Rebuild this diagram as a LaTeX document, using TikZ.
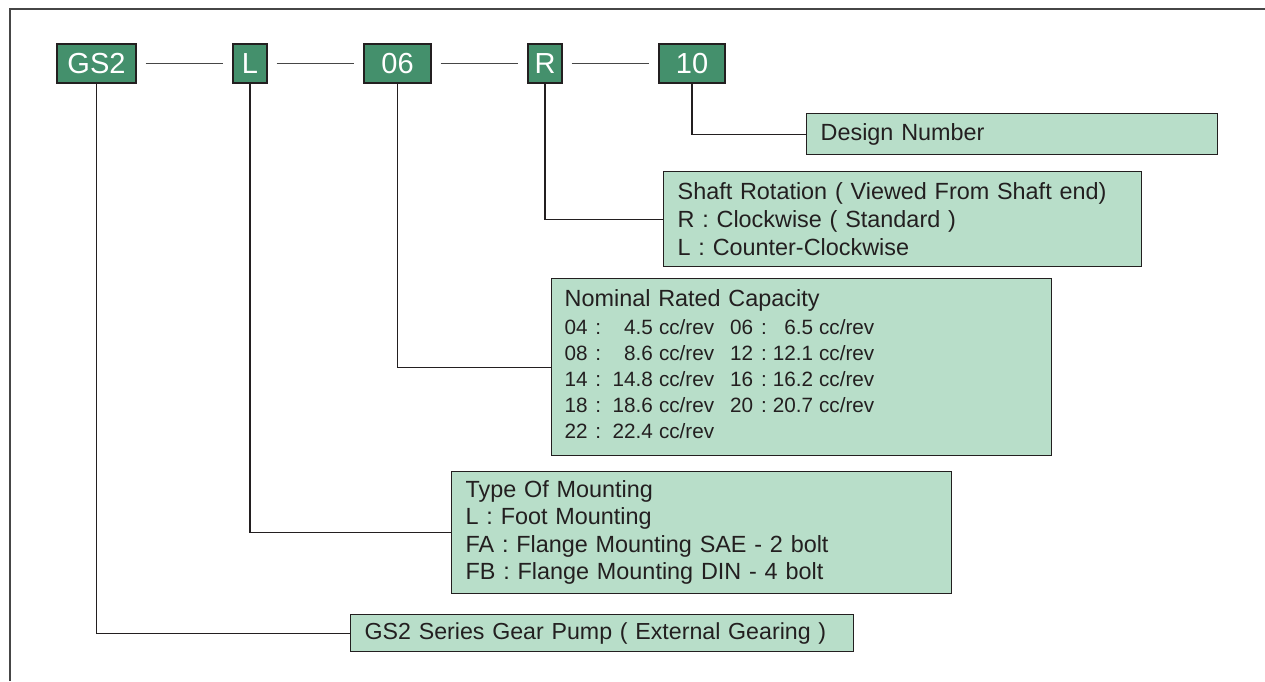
\documentclass[tikz,border=0pt]{standalone}
\usepackage{fontspec}
\setmainfont{Liberation Sans}
\definecolor{codegreen}{RGB}{68,144,108}
\definecolor{boxgreen}{RGB}{184,222,201}
\definecolor{bord}{RGB}{35,31,32}
\definecolor{linegray}{RGB}{70,70,70}
\tikzset{
  codebox/.style={draw=bord, fill=codegreen, line width=1.3pt, text=white,
    inner sep=0pt, minimum height=39pt, font=\fontsize{29}{32}\selectfont},
  descbox/.style={draw=bord, fill=boxgreen, line width=1.3pt, text=bord,
    inner xsep=14pt, inner ysep=0pt, align=left, anchor=north west,
    font=\fontsize{23.4}{28}\selectfont},
  link/.style={draw=linegray, line width=1.2pt, shorten <=9pt, shorten >=9pt},
  conn/.style={draw=bord, line width=1.2pt},
  frameline/.style={draw=linegray, line width=1.3pt}
}
\begin{document}
\begin{tikzpicture}[x=1pt,y=-1pt]
\useasboundingbox (0,0) rectangle (1265,681);
\coordinate (fbl) at (10,681);
\coordinate (ftr) at (1265,9);
\draw[frameline] (fbl) |- (ftr);

% code boxes
\node[codebox, minimum width=79pt] (gs) at (96.5,63.5) {GS2};
\node[codebox, minimum width=34pt] (mt) at (250,63.5) {L};
\node[codebox, minimum width=67pt] (cap) at (397.5,63.5) {06};
\node[codebox, minimum width=34pt] (rot) at (545,63.5) {R};
\node[codebox, minimum width=66pt] (des) at (692,63.5) {10};

\draw[link] (gs.east) -- (mt.west);
\draw[link] (mt.east) -- (cap.west);
\draw[link] (cap.east) -- (rot.west);
\draw[link] (rot.east) -- (des.west);

% description boxes
\node[descbox, text width=383pt, minimum height=41pt] (dn) at (806,113) {Design Number};
\node[descbox, text width=450pt, minimum height=95pt] (sr) at (663,171)
  {Shaft Rotation ( Viewed From Shaft end)\\R : Clockwise ( Standard )\\L : Counter-Clockwise};
\node[descbox, inner xsep=13pt, text width=474pt, minimum height=177pt] (nrc) at (551,278)
  {\fontsize{20.7}{26}\selectfont
   \begin{tabular}{@{}l@{\hspace{11.5pt}}r@{\hspace{6pt}}l@{\hspace{16pt}}l@{\hspace{6pt}}r@{\hspace{6pt}}l@{}}
   \multicolumn{6}{@{}l@{}}{\fontsize{23.4}{27}\selectfont Nominal Rated Capacity}\\[1.5pt]
   04 :&4.5&cc/rev&06 :&6.5&cc/rev\\
   08 :&8.6&cc/rev&12 :&12.1&cc/rev\\
   14 :&14.8&cc/rev&16 :&16.2&cc/rev\\
   18 :&18.6&cc/rev&20 :&20.7&cc/rev\\
   22 :&22.4&cc/rev&&&
   \end{tabular}};
\node[descbox, text width=472pt, minimum height=122pt, font=\fontsize{23.4}{27.5}\selectfont] (tm) at (451,471)
  {Type Of Mounting\\L : Foot Mounting\\FA : Flange Mounting SAE - 2 bolt\\FB : Flange Mounting DIN - 4 bolt};
\node[descbox, text width=475pt, minimum height=37pt, font=\fontsize{23.2}{27}\selectfont] (gsp) at (350,614)
  {GS2 Series Gear Pump ( External Gearing )};

% connectors
\draw[conn] (des.south) |- (dn.west);
\draw[conn] (rot.south) |- (sr.west);
\draw[conn] (cap.south) |- (nrc.west);
\draw[conn] (mt.south) |- (tm.west);
\draw[conn] (gs.south) |- (gsp.west);
\end{tikzpicture}
\end{document}
